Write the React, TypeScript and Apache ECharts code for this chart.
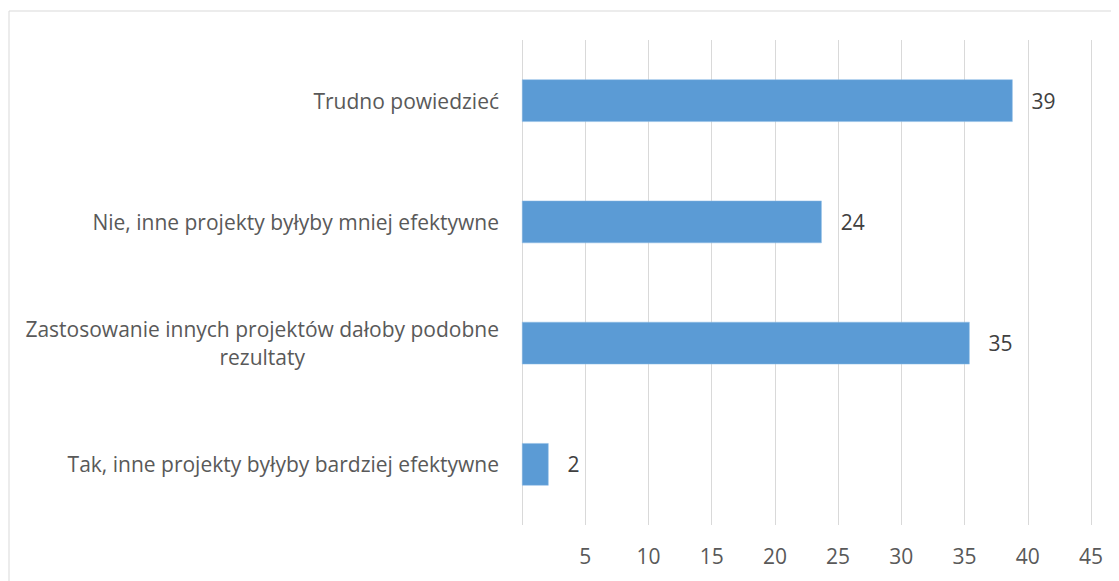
import React, { useEffect, useRef } from "react";
import * as echarts from "echarts";

const categories: string[] = [
  "Trudno powiedzieć",
  "Nie, inne projekty byłyby mniej efektywne",
  "Zastosowanie innych projektów dałoby podobne\nrezultaty",
  "Tak, inne projekty byłyby bardziej efektywne",
];
const values: number[] = [38.8, 23.7, 35.4, 2.1];
const axisMin = 0;
const axisMax = 45;
const axisStep = 5;

const FONT = "Open Sans";
const FS = 21;

export default function App() {
  const ref = useRef<HTMLDivElement>(null);
  useEffect(() => {
    if (!ref.current) return;
    const chart = echarts.init(ref.current, null, { renderer: "svg" });
    chart.setOption({
      animation: false,
      backgroundColor: "#ffffff",
      graphic: [
        {
          type: "rect",
          shape: { x: 1, y: 3, width: 1300, height: 800 },
          style: { fill: "none", stroke: "#d9d9d9", lineWidth: 1 },
          silent: true,
          z: -10,
        },
      ],
      grid: { left: 514, right: 28, top: 32, bottom: 56, containLabel: false },
      xAxis: {
        type: "value",
        min: axisMin,
        max: axisMax,
        interval: axisStep,
        axisLine: { show: false },
        axisTick: { show: false },
        splitLine: { show: true, lineStyle: { color: "#d9d9d9", width: 1 } },
        axisLabel: {
          showMinLabel: false,
          color: "#595959",
          fontSize: FS,
          fontFamily: FONT,
          margin: 20,
        },
      },
      yAxis: {
        type: "category",
        inverse: true,
        data: categories,
        axisLine: { show: false },
        axisTick: { show: false },
        splitLine: { show: false },
        axisLabel: {
          margin: 23,
          color: "#595959",
          fontSize: FS,
          fontFamily: FONT,
          lineHeight: 28,
          formatter: (v: string) => {
            const parts = v.split("\n");
            if (parts.length === 1) return `{a|${v}}`;
            return `{a|${parts[0]}}\n{c|${parts[1]}}`;
          },
          rich: {
            a: { color: "#595959", fontSize: FS, fontFamily: FONT, lineHeight: 28 },
            c: { color: "#595959", fontSize: FS, fontFamily: FONT, lineHeight: 28, align: "center" },
          },
        },
      },
      series: [
        {
          type: "bar",
          data: values,
          barWidth: "35%",
          itemStyle: { color: "#5b9bd5", borderColor: "#8fbce6", borderWidth: 0.5 },
          label: {
            show: true,
            position: "right",
            distance: 19,
            color: "#404040",
            fontSize: FS,
            fontFamily: FONT,
            formatter: (p: any) => String(Math.round(p.value)),
          },
        },
      ],
    });
    return () => chart.dispose();
  }, []);
  return <div ref={ref} style={{ width: 1111, height: 573 }} />;
}
